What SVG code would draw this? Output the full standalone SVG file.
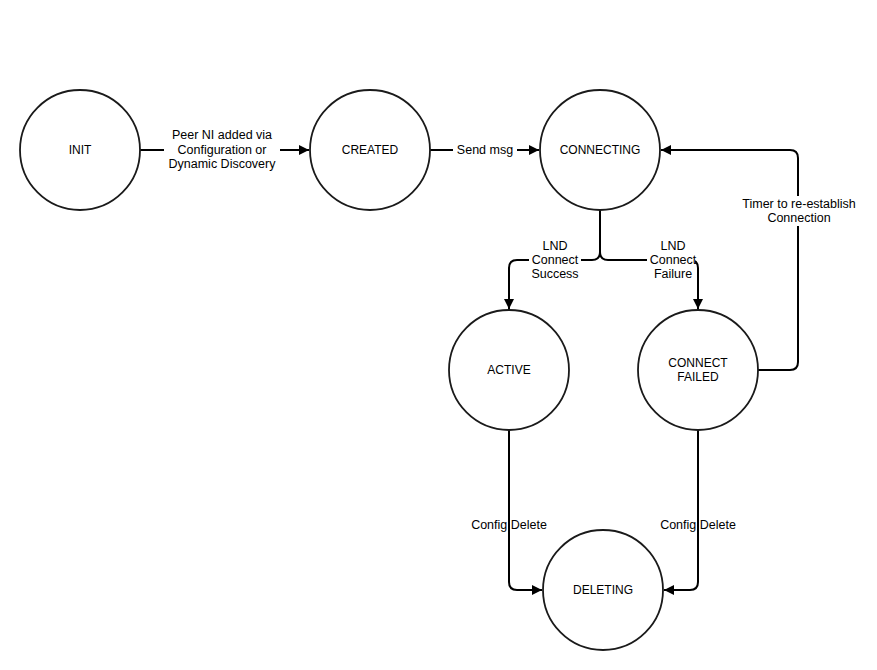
<svg xmlns="http://www.w3.org/2000/svg" width="877" height="670" viewBox="0 0 877 670">
<style>
.node circle{fill:#fff;stroke:#1a1a1a;stroke-width:1.8}
.node text{font-family:"Liberation Sans",Arial,sans-serif;font-size:12px;fill:#000;text-anchor:middle;dominant-baseline:central}
.edge{fill:none;stroke:#000;stroke-width:2}
.lbl rect{fill:#fff}
.lbl text{font-family:"Liberation Sans",Arial,sans-serif;font-size:12.5px;fill:#000;text-anchor:middle;dominant-baseline:central}
</style>
<defs>
<marker id="arr" viewBox="0 0 10 10" refX="10" refY="5" markerWidth="10" markerHeight="10" markerUnits="userSpaceOnUse" orient="auto">
<path d="M0,0 L10,5 L0,10 Z" fill="#000"/>
</marker>
</defs>
<rect width="877" height="670" fill="#fff"/>
<g id="connectors">
<path class="edge" d="M140,150 H309" marker-end="url(#arr)"/>
<path class="edge" d="M430,150 H539" marker-end="url(#arr)"/>
<path class="edge" d="M600,210 V252 Q600,260 592,260 H517 Q509,260 509,268 V309" marker-end="url(#arr)"/>
<path class="edge" d="M600,210 V252 Q600,260 608,260 H690 Q698,260 698,268 V309" marker-end="url(#arr)"/>
<path class="edge" d="M758,370 H790 Q798,370 798,362 V158 Q798,150 790,150 H661" marker-end="url(#arr)"/>
<path class="edge" d="M509,430 V582 Q509,590 517,590 H542" marker-end="url(#arr)"/>
<path class="edge" d="M698,430 V582 Q698,590 690,590 H664" marker-end="url(#arr)"/>
</g>
<g id="labels">
<g class="lbl">
<rect x="164" y="127" width="116" height="45"/>
<text x="222" y="135">Peer NI added via</text>
<text x="222" y="149.5">Configuration or</text>
<text x="222" y="164">Dynamic Discovery</text>
</g>
<g class="lbl">
<rect x="453" y="142" width="64" height="16"/>
<text x="485" y="150">Send msg</text>
</g>
<g class="lbl">
<rect x="529" y="238" width="52" height="44"/>
<text x="555" y="245.5">LND</text>
<text x="555" y="260">Connect</text>
<text x="555" y="274">Success</text>
</g>
<g class="lbl">
<rect x="647" y="238" width="48" height="44"/>
<text x="673" y="245.5">LND</text>
<text x="673" y="260">Connect</text>
<text x="673" y="274">Failure</text>
</g>
<g class="lbl">
<rect x="739" y="196" width="120" height="30"/>
<text x="799" y="204">Timer to re-establish</text>
<text x="799" y="218">Connection</text>
</g>
<g class="lbl">
<text x="509" y="525">Config Delete</text>
</g>
<g class="lbl">
<text x="698" y="525">Config Delete</text>
</g>
</g>
<g id="node-init" class="node"><circle cx="80" cy="150" r="60"/><text x="80" y="150">INIT</text></g>
<g id="node-created" class="node"><circle cx="370" cy="150" r="60"/><text x="370" y="150">CREATED</text></g>
<g id="node-connecting" class="node"><circle cx="600" cy="150" r="60"/><text x="600" y="150">CONNECTING</text></g>
<g id="node-active" class="node"><circle cx="509" cy="370" r="60"/><text x="509" y="370">ACTIVE</text></g>
<g id="node-connect-failed" class="node"><circle cx="698" cy="370" r="60"/><text x="698" y="363">CONNECT</text><text x="698" y="377">FAILED</text></g>
<g id="node-deleting" class="node"><circle cx="603" cy="590" r="60"/><text x="603" y="590">DELETING</text></g>
</svg>
